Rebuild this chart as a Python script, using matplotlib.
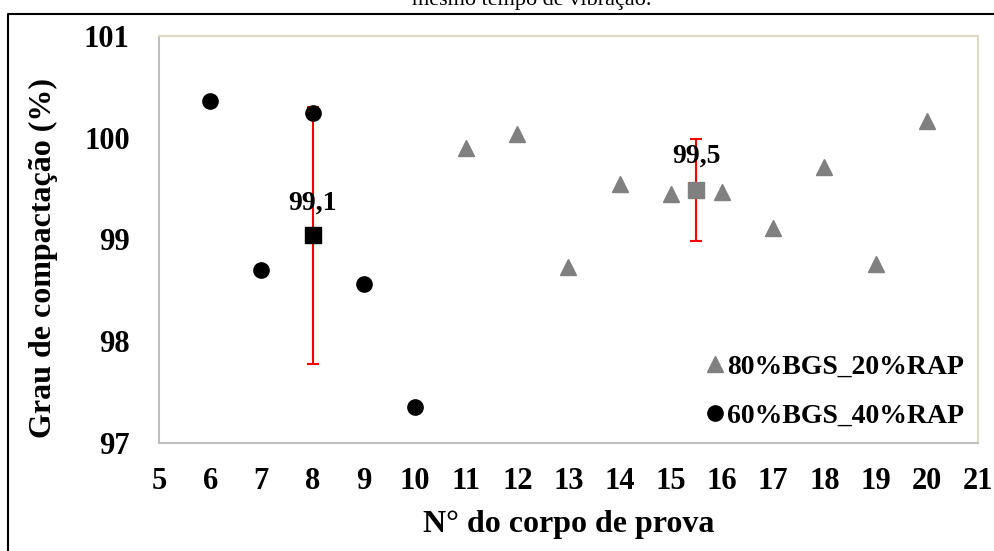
import matplotlib.pyplot as plt
from matplotlib.lines import Line2D

plt.rcParams['font.family'] = ['Liberation Serif', 'DejaVu Serif']

# data
cp_80 = [11, 12, 13, 14, 15, 16, 17, 18, 19, 20]
gc_80 = [99.90, 100.04, 98.73, 99.55, 99.45, 99.47, 99.11, 99.71, 98.76, 100.16]
cp_60 = [6, 7, 8, 9, 10]
gc_60 = [100.36, 98.70, 100.24, 98.56, 97.35]

# averages with standard deviation
mean_x = [8, 15.5]
mean_y = [99.04, 99.49]
mean_sd = [1.26, 0.50]
mean_labels = ["99,1", "99,5"]
mean_colors = ["black", "#808080"]

labels = ["80%BGS_20%RAP", "60%BGS_40%RAP"]

fig = plt.figure(figsize=(9.95, 5.51), dpi=100)
ax = fig.add_axes([159 / 995, 1 - 443 / 551, 819 / 995, 407 / 551])

# error bars + mean squares
for x, y, sd, c in zip(mean_x, mean_y, mean_sd, mean_colors):
    ax.errorbar(x, y, yerr=sd, fmt='none', ecolor='red', elinewidth=1.5,
                capsize=4.5, capthick=1.5, zorder=2)
    ax.plot(x, y, marker='s', ms=11, color=c, linestyle='none', zorder=3)

ax.plot(cp_80, gc_80, marker='^', ms=11, color='#808080', linestyle='none',
        label=labels[0], zorder=3)
ax.plot(cp_60, gc_60, marker='o', ms=11, color='black', linestyle='none',
        label=labels[1], zorder=3)

# mean labels
ax.text(mean_x[0], mean_y[0] + 0.32, mean_labels[0], ha='center', va='center',
        fontsize=20, fontweight='bold', zorder=4)
ax.text(mean_x[1], mean_y[1] + 0.33, mean_labels[1], ha='center', va='center',
        fontsize=20, fontweight='bold', zorder=4)

ax.set_xlim(5, 21)
ax.set_ylim(97, 101)
ax.set_xticks(range(5, 22))
ax.set_yticks([97, 98, 99, 100, 101])
ax.tick_params(axis='both', length=0, labelsize=22)
ax.tick_params(axis='x', pad=17)
ax.tick_params(axis='y', pad=21)
for t in ax.get_xticklabels() + ax.get_yticklabels():
    t.set_fontweight('bold')

ax.spines['top'].set_color('#ddd9c3')
ax.spines['right'].set_color('#ddd9c3')
ax.spines['left'].set_color('#bfbfbf')
ax.spines['bottom'].set_color('#bfbfbf')
for s in ax.spines.values():
    s.set_linewidth(1.5)

ax.set_xlabel("N° do corpo de prova", fontsize=23, fontweight='bold')
ax.xaxis.set_label_coords(0.5, -0.165)
ax.set_ylabel("Grau de compactação (%)", fontsize=23, fontweight='bold')
ax.yaxis.set_label_coords(-0.123, 0.455)

ax.legend(loc='lower left', bbox_to_anchor=(0.667, 0.035), frameon=False,
          prop={'weight': 'bold', 'size': 20}, handlelength=0.7,
          handletextpad=0.1, labelspacing=0.85, borderpad=0, borderaxespad=0)

# caption cut off at the top and outer frame
fig.text(0.534, 1 - 5 / 551, "mesmo tempo de vibração.", ha='center',
         va='baseline', fontsize=16)
fig.add_artist(Line2D([8 / 995, 8 / 995, 1], [0, 1 - 14 / 551, 1 - 14 / 551],
                      transform=fig.transFigure, color='black', linewidth=1.5))

fig.savefig("out.png", dpi=100)
